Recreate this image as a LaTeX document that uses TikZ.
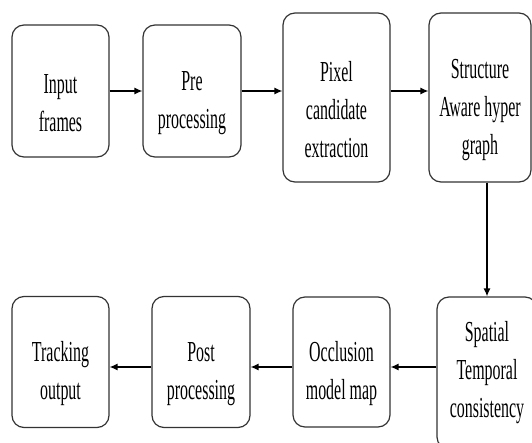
\documentclass[tikz,border=0pt]{standalone}
\usepackage{fontspec}
\setmainfont{Liberation Serif}[FakeStretch=0.55]
\usetikzlibrary{arrows.meta}

\newcommand{\tstrut}{\rule{0pt}{44pt}}

\begin{document}
\begin{tikzpicture}[x=1pt, y=-1pt,
  block/.style={draw=black!80, line width=1.2pt, rounded corners=12pt, inner sep=0pt,
    align=center, font=\fontsize{29}{38}\selectfont},
  arr/.style={line width=1.3pt, -{Latex[length=8pt,width=7pt]}}]
  \useasboundingbox (0,0) rectangle (532,443);

  % top row
  \node[block, minimum width=97pt, minimum height=132pt] (inp) at (60.5,91) {\tstrut Input\\frames};
  \node[block, minimum width=98pt, minimum height=132pt] (pre) at (192,91) {\tstrut Pre\\processing};
  \node[block, minimum width=107pt, minimum height=169pt] (pix) at (336.5,97.5) {\tstrut Pixel\\candidate\\extraction};
  \node[block, minimum width=102pt, minimum height=169pt] (hyp) at (480,97.5) {\tstrut Structure\\Aware hyper\\graph};

  % bottom row
  \node[block, minimum width=100pt, minimum height=152pt] (stc) at (487,373) {Spatial\\Temporal\\consistency};
  \node[block, minimum width=97pt, minimum height=130pt] (occ) at (341.5,362) {\tstrut Occlusion\\model map};
  \node[block, minimum width=98pt, minimum height=131pt] (post) at (201,362) {\tstrut Post\\processing};
  \node[block, minimum width=97pt, minimum height=131pt] (trk) at (60.5,362) {\tstrut Tracking\\output};

  \draw[arr] (inp) -- (pre);
  \draw[arr] (pre.east) -- (pre.east -| pix.west);
  \draw[arr] (pre.east -| pix.east) -- (pre.east -| hyp.west);
  \draw[arr] (stc.north |- hyp.south) -- (stc.north);
  \draw[arr] ([yshift=-5pt]occ.east -| stc.west) -- ([yshift=-5pt]occ.east);
  \draw[arr] ([yshift=-5pt]occ.west) -- ([yshift=-5pt]post.east);
  \draw[arr] ([yshift=-5pt]post.west) -- ([yshift=-5pt]trk.east);
\end{tikzpicture}
\end{document}
